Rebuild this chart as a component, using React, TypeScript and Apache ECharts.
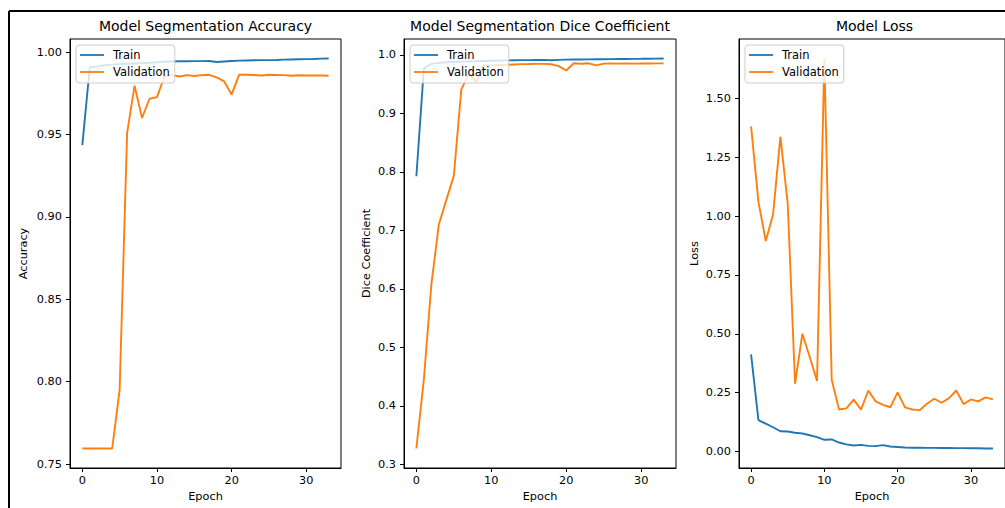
import React, { useEffect, useRef } from "react";
import * as echarts from "echarts";

const epochs = [0, 1, 2, 3, 4, 5, 6, 7, 8, 9, 10, 11, 12, 13, 14, 15, 16, 17, 18, 19, 20, 21, 22, 23, 24, 25, 26, 27, 28, 29, 30, 31, 32, 33];

const trainAcc = [0.9436, 0.9908, 0.9913, 0.992, 0.9924, 0.9927, 0.9929, 0.9931, 0.9933, 0.9935, 0.9938, 0.9941, 0.9943, 0.9944, 0.9944, 0.9945, 0.9945, 0.9946, 0.994, 0.9943, 0.9946, 0.9948, 0.9949, 0.995, 0.9951, 0.9951, 0.9952, 0.9954, 0.9955, 0.9956, 0.9957, 0.9958, 0.996, 0.9961];
const valAcc = [0.7595, 0.7595, 0.7595, 0.7595, 0.7595, 0.795, 0.951, 0.9796, 0.96, 0.9717, 0.9727, 0.9852, 0.986, 0.9852, 0.986, 0.9855, 0.986, 0.9862, 0.9846, 0.9822, 0.9743, 0.9862, 0.9862, 0.9861, 0.9858, 0.9862, 0.9861, 0.986, 0.9856, 0.9859, 0.9858, 0.9858, 0.9858, 0.9856];

const trainDice = [0.7925, 0.9766, 0.9845, 0.9863, 0.9872, 0.9878, 0.9883, 0.9887, 0.9891, 0.9895, 0.9899, 0.9902, 0.9905, 0.9907, 0.9909, 0.991, 0.9912, 0.9913, 0.9908, 0.9914, 0.9917, 0.9919, 0.9921, 0.9922, 0.9924, 0.9925, 0.9926, 0.9928, 0.9929, 0.9931, 0.9932, 0.9934, 0.9935, 0.9937];
const valDice = [0.327, 0.445, 0.607, 0.71, 0.752, 0.793, 0.941, 0.967, 0.954, 0.982, 0.982, 0.9825, 0.983, 0.9835, 0.984, 0.9842, 0.9845, 0.9845, 0.9838, 0.9806, 0.9732, 0.9855, 0.9848, 0.9855, 0.982, 0.985, 0.9853, 0.985, 0.9852, 0.985, 0.9851, 0.9852, 0.9853, 0.9854];

const trainLoss = [0.412, 0.133, 0.118, 0.103, 0.086, 0.085, 0.0794, 0.0765, 0.069, 0.061, 0.0496, 0.051, 0.038, 0.03, 0.0255, 0.028, 0.024, 0.023, 0.027, 0.021, 0.019, 0.017, 0.016, 0.0158, 0.0155, 0.0152, 0.015, 0.0148, 0.0145, 0.0142, 0.014, 0.0135, 0.013, 0.0127];
const valLoss = [1.381, 1.06, 0.894, 1.007, 1.336, 1.053, 0.288, 0.5, 0.401, 0.299, 1.669, 0.305, 0.1785, 0.183, 0.22, 0.178, 0.259, 0.2125, 0.198, 0.188, 0.251, 0.187, 0.1785, 0.1755, 0.203, 0.224, 0.207, 0.2265, 0.259, 0.201, 0.221, 0.2125, 0.2295, 0.221];

const epochTicks = [0, 10, 20, 30];
const accTicks = [0.75, 0.8, 0.85, 0.9, 0.95, 1.0];
const diceTicks = [0.3, 0.4, 0.5, 0.6, 0.7, 0.8, 0.9, 1.0];
const lossTicks = [0, 0.25, 0.5, 0.75, 1.0, 1.25, 1.5];

const titles = ["Model Segmentation Accuracy", "Model Segmentation Dice Coefficient", "Model Loss"];
const yNames = ["Accuracy", "Dice Coefficient", "Loss"];
const seriesNames = ["Train", "Validation"];

const FONT = "DejaVu Sans";
const C0 = "#1f77b4";
const C1 = "#ff7f0e";

function pad(arr: number[][]) {
  const all = arr.flat();
  const lo = Math.min(...all);
  const hi = Math.max(...all);
  const m = (hi - lo) * 0.05;
  return [lo - m, hi + m];
}

export default function App() {
  const ref = useRef<HTMLDivElement>(null);
  useEffect(() => {
    document.body.style.margin = "0";
    const chart = echarts.init(ref.current!, null, { renderer: "svg" });
    const grids = [
      { left: 70, top: 39, width: 271, height: 429 },
      { left: 404, top: 39, width: 272, height: 429 },
      { left: 739, top: 39, width: 271, height: 429 },
    ];
    const panels = [
      { train: trainAcc, val: valAcc, ticks: accTicks, dec: 2, gap: 41 },
      { train: trainDice, val: valDice, ticks: diceTicks, dec: 1, gap: 32 },
      { train: trainLoss, val: valLoss, ticks: lossTicks, dec: 2, gap: 39 },
    ];
    const xr = pad([epochs]);
    const tickStyle = { show: true, inside: false, length: 4, lineStyle: { color: "#000", width: 1 } };
    const axisLine = { show: true, onZero: false, lineStyle: { color: "#000", width: 1 } };
    const option: any = {
      animation: false,
      backgroundColor: "#fff",
      title: grids.map((g, i) => ({
        text: titles[i],
        left: g.left + g.width / 2,
        top: 19,
        padding: 0,
        textAlign: "center",
        textStyle: { fontFamily: FONT, fontSize: 14, fontWeight: "normal", color: "#000" },
      })),
      grid: grids.map((g) => ({ ...g, show: true, borderColor: "#000", borderWidth: 1, backgroundColor: "transparent" })),
      legend: grids.map((g) => ({
        data: seriesNames.map((n) => ({ name: n, icon: "path://M0,0 L24,0 L24,1.8 L0,1.8 Z" })),
        orient: "vertical",
        left: g.left + 6,
        top: 45,
        padding: [4, 5, 5, 4],
        itemWidth: 24,
        itemHeight: 13,
        itemGap: 5,
        backgroundColor: "rgba(255,255,255,0.8)",
        borderColor: "#cccccc",
        borderWidth: 1,
        borderRadius: 3,
        selectedMode: false,
        textStyle: { fontFamily: FONT, fontSize: 11.5, color: "#000", padding: [0, 0, 0, 4] },
      })),
      xAxis: grids.map((g, i) => ({
        type: "value",
        gridIndex: i,
        position: "bottom",
        min: xr[0],
        max: xr[1],
        name: "Epoch",
        nameLocation: "middle",
        nameGap: 23,
        nameTextStyle: { fontFamily: FONT, fontSize: 11.3, color: "#000" },
        axisLine,
        splitLine: { show: false },
        axisTick: { ...tickStyle, customValues: epochTicks },
        axisLabel: {
          customValues: epochTicks,
          margin: 7,
          fontFamily: FONT,
          fontSize: 11.3,
          color: "#000",
          formatter: (v: number) => String(v),
        },
      })),
      yAxis: panels.map((p, i) => {
        const yr = pad([p.train, p.val]);
        return {
          type: "value",
          gridIndex: i,
          position: "left",
          min: yr[0],
          max: yr[1],
          name: yNames[i],
          nameLocation: "middle",
          nameGap: p.gap,
          nameTextStyle: { fontFamily: FONT, fontSize: 11.3, color: "#000" },
          axisLine,
          splitLine: { show: false },
          axisTick: { ...tickStyle, customValues: p.ticks },
          axisLabel: {
            customValues: p.ticks,
            margin: 8,
            fontFamily: FONT,
            fontSize: 11.3,
            color: "#000",
            formatter: (v: number) => v.toFixed(p.dec),
          },
        };
      }),
      series: panels.flatMap((p, i) => [
        {
          name: "Train",
          type: "line",
          xAxisIndex: i,
          yAxisIndex: i,
          symbol: "none",
          data: epochs.map((e, k) => [e, p.train[k]]),
          lineStyle: { color: C0, width: 1.9 },
          itemStyle: { color: C0 },
        },
        {
          name: "Validation",
          type: "line",
          xAxisIndex: i,
          yAxisIndex: i,
          symbol: "none",
          data: epochs.map((e, k) => [e, p.val[k]]),
          lineStyle: { color: C1, width: 1.9 },
          itemStyle: { color: C1 },
        },
      ]),
      graphic: [
        { type: "line", shape: { x1: 9, y1: 11, x2: 1005, y2: 11 }, style: { stroke: "#000", lineWidth: 2 } },
        { type: "line", shape: { x1: 9, y1: 11, x2: 9, y2: 508 }, style: { stroke: "#000", lineWidth: 2 } },
      ],
    };
    chart.setOption(option);
    return () => chart.dispose();
  }, []);
  return <div ref={ref} style={{ position: "absolute", left: 0, top: 0, width: 1005, height: 508 }} />;
}
